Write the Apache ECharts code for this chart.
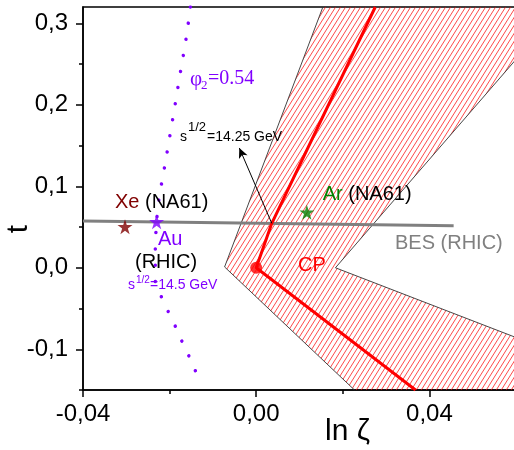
<!DOCTYPE html>
<html><head><meta charset="utf-8">
<script src="https://cdn.jsdelivr.net/npm/echarts@6/dist/echarts.min.js"></script>
<style>html,body{margin:0;padding:0;background:#fff}#c{width:514px;height:450px}</style>
</head><body><div id="c"></div>
<script>
// ---- data ----
const xMajorTicks = [-0.04, 0, 0.04];
const xMinorTicks = [-0.02, 0.02];
const yMajorTicks = [-0.1, 0, 0.1, 0.2, 0.3];
const yMinorTicks = [-0.15, -0.05, 0.05, 0.15, 0.25];

// phi_2 = 0.54 curve
const phiX = [-0.0152, -0.0162, -0.0175, -0.0187, -0.0199, -0.0212, -0.0225, -0.0230, -0.0233, -0.0233, -0.0219, -0.0203, -0.0187, -0.0172, -0.0156, -0.0141, -0.0129];
const phiY = [0.320, 0.281, 0.240, 0.201, 0.163, 0.1225, 0.083, 0.0565, 0.022, -0.015, -0.0356, -0.054, -0.0716, -0.0897, -0.1076, -0.1257, -0.144];

// BES (RHIC) line
const besX = [-0.04, 0.0456];
const besY = [0.0574, 0.0516];

// critical line through CP
const cpLineX = [0.0275, 0.0036, 0.0, 0.0368];
const cpLineY = [0.320, 0.0545, 0.0, -0.150];
const cpX = [0.0];
const cpY = [0.0];

// hatched uncertainty band
const bandX = [0.0154, -0.0073, 0.0227, 0.06, 0.06, 0.0183, 0.06, 0.06];
const bandY = [0.320, 0.001, -0.150, -0.150, -0.0856, 0.0, 0.2557, 0.320];
const bandLeftX = [0.0154, -0.0073, 0.0227];
const bandLeftY = [0.320, 0.001, -0.150];
const bandRightX = [0.06, 0.0183, 0.06];
const bandRightY = [0.2557, 0.0, -0.0856];

// experimental points (stars)
const starNames = ['Xe', 'Au', 'Ar'];
const starX = [-0.0303, -0.0230, 0.0117];
const starY = [0.0504, 0.0565, 0.0680];

// arrow to s^1/2 = 14.25 GeV
const arrowX = [0.0036, -0.0039];
const arrowY = [0.0545, 0.147];

// ---- chart ----
const SANS = "'Liberation Sans', Arial, sans-serif";
const SERIF = "'Liberation Serif', 'Times New Roman', serif";
const starColors = {Xe: '#800000', Au: '#8000ff', Ar: '#008000'};
const starPath = 'path://M50 0 L61.17 34.63 L97.55 34.55 L68.07 55.87 L79.39 90.45 L50 69 L20.61 90.45 L31.93 55.87 L2.45 34.55 L38.83 34.63 Z';

const pc = document.createElement('canvas');
pc.width = 5; pc.height = 8;
const g = pc.getContext('2d');
g.strokeStyle = 'rgba(255,0,0,0.8)'; g.lineWidth = 0.9;
g.beginPath();
[-5, 0, 5].forEach(o => { g.moveTo(o, 8); g.lineTo(o + 5, 0); });
g.stroke();
const hatch = {image: pc, repeat: 'repeat'};

const pairs = (xs, ys) => xs.map((x, i) => [x, ys[i]]);

const chart = echarts.init(document.getElementById('c'), null, {renderer: 'canvas'});
const option = {
  backgroundColor: '#fff',
  animation: false,
  grid: {left: 83, right: -2, top: 7, bottom: 60, show: true, borderColor: '#000', borderWidth: 1.5, outerBoundsMode: 'none', containLabel: false},
  xAxis: [
    {type: 'value', min: -0.04, max: 0.06, position: 'bottom',
     splitLine: {show: false},
     axisLine: {show: true, onZero: false, lineStyle: {color: '#000', width: 1.5}},
     axisTick: {show: true, customValues: xMajorTicks, length: 7, inside: false, lineStyle: {color: '#000', width: 1.5}},
     axisLabel: {show: true, customValues: xMajorTicks, margin: 12, color: '#000', fontSize: 24, fontFamily: SANS,
       formatter: v => v.toFixed(2).replace('.', ',')}},
    {type: 'value', min: -0.04, max: 0.06, position: 'bottom',
     splitLine: {show: false},
     axisLine: {show: false, onZero: false},
     axisTick: {show: true, customValues: xMinorTicks, length: 4, inside: false, lineStyle: {color: '#000', width: 1.5}},
     axisLabel: {show: false}}
  ],
  yAxis: [
    {type: 'value', min: -0.15, max: 0.32, position: 'left',
     splitLine: {show: false},
     axisLine: {show: true, onZero: false, lineStyle: {color: '#000', width: 1.5}},
     axisTick: {show: true, customValues: yMajorTicks, length: 7, inside: false, lineStyle: {color: '#000', width: 1.5}},
     axisLabel: {show: true, customValues: yMajorTicks, margin: 15, color: '#000', fontSize: 24, fontFamily: SANS,
       formatter: v => v.toFixed(1).replace('.', ',')}},
    {type: 'value', min: -0.15, max: 0.32, position: 'left',
     splitLine: {show: false},
     axisLine: {show: false, onZero: false},
     axisTick: {show: true, customValues: yMinorTicks, length: 4, inside: false, lineStyle: {color: '#000', width: 1.5}},
     axisLabel: {show: false}}
  ],
  series: [
    {type: 'custom', name: 'band', coordinateSystem: 'cartesian2d', silent: true, z: 1,
     data: [[0, 0]],
     renderItem: (params, api) => ({
       type: 'polygon',
       shape: {points: bandX.map((x, i) => api.coord([x, bandY[i]]))},
       style: {fill: hatch, stroke: null}
     })},
    {type: 'line', name: 'bandLeft', data: pairs(bandLeftX, bandLeftY), symbol: 'none', z: 2, silent: true,
     lineStyle: {color: '#333', width: 0.9}},
    {type: 'line', name: 'bandRight', data: pairs(bandRightX, bandRightY), symbol: 'none', z: 2, silent: true,
     lineStyle: {color: '#333', width: 0.9}},
    {type: 'line', name: 'BES (RHIC)', data: pairs(besX, besY), symbol: 'none', z: 3, silent: true,
     lineStyle: {color: '#808080', width: 3}},
    {type: 'line', name: 'critical line', data: pairs(cpLineX, cpLineY), symbol: 'none', z: 4, silent: true,
     lineStyle: {color: '#ff0000', width: 3}},
    {type: 'line', name: 'phi2', data: pairs(phiX, phiY), symbol: 'none', smooth: 0.3, z: 5, silent: true,
     lineStyle: {color: '#8000ff', width: 3.5, type: [0.01, 16.3], cap: 'round'}},
    {type: 'line', name: 'arrow', data: [], z: 6, silent: true,
     markLine: {silent: true, symbol: ['none', 'arrow'], symbolSize: [7, 10], label: {show: false},
       lineStyle: {color: '#000', width: 1, type: 'solid'},
       data: [[{coord: [arrowX[0], arrowY[0]]}, {coord: [arrowX[1], arrowY[1]]}]]}},
    {type: 'scatter', name: 'stars', z: 7, silent: true, symbol: starPath, symbolSize: 15,
     data: starNames.map((n, i) => ({name: n, value: [starX[i], starY[i]], itemStyle: {color: starColors[n]}}))},
    {type: 'scatter', name: 'CP', z: 8, silent: true, symbol: 'circle', symbolSize: 12,
     itemStyle: {color: '#ff0000'}, data: pairs(cpX, cpY)}
  ],
  graphic: [
    {type: 'text', x: 190, y: 79, z: 100, style: {text: 'φ', font: '21px ' + SERIF, fill: '#8000ff', verticalAlign: 'middle'}},
    {type: 'text', x: 201, y: 86, z: 100, style: {text: '2', font: '13px ' + SERIF, fill: '#8000ff', verticalAlign: 'middle'}},
    {type: 'text', x: 208, y: 79, z: 100, style: {text: '=0.54', font: '20px ' + SERIF, fill: '#8000ff', verticalAlign: 'middle'}},

    {type: 'text', x: 180, y: 137, z: 100, style: {text: 's', font: '14px ' + SANS, fill: '#000', verticalAlign: 'middle'}},
    {type: 'text', x: 188, y: 127, z: 100, style: {text: '1/2', font: '13px ' + SANS, fill: '#000', verticalAlign: 'middle'}},
    {type: 'text', x: 207, y: 137, z: 100, style: {text: '=14.25 GeV', font: '14px ' + SANS, fill: '#000', verticalAlign: 'middle'}},

    {type: 'text', x: 115, y: 202, z: 100, style: {text: '{a|Xe} (NA61)', font: '20px ' + SANS, fill: '#000', verticalAlign: 'middle',
      rich: {a: {fill: '#800000', font: '20px ' + SANS}}}},
    {type: 'text', x: 158, y: 239, z: 100, style: {text: 'Au', font: '20px ' + SANS, fill: '#8000ff', verticalAlign: 'middle'}},
    {type: 'text', x: 135, y: 262, z: 100, style: {text: '(RHIC)', font: '20px ' + SANS, fill: '#000', verticalAlign: 'middle'}},
    {type: 'text', x: 128, y: 285, z: 100, style: {text: 's', font: '14px ' + SANS, fill: '#8000ff', verticalAlign: 'middle'}},
    {type: 'text', x: 136, y: 280, z: 100, style: {text: '1/2', font: '10px ' + SANS, fill: '#8000ff', verticalAlign: 'middle'}},
    {type: 'text', x: 150, y: 285, z: 100, style: {text: '=14.5 GeV', font: '14px ' + SANS, fill: '#8000ff', verticalAlign: 'middle'}},

    {type: 'text', x: 322.7, y: 194, z: 100, style: {text: '{g|Ar} (NA61)', font: '20px ' + SANS, fill: '#000', verticalAlign: 'middle',
      rich: {g: {fill: '#008000', font: '20px ' + SANS}}}},
    {type: 'text', x: 395, y: 243, z: 100, style: {text: 'BES (RHIC)', font: '20px ' + SANS, fill: '#808080', verticalAlign: 'middle'}},
    {type: 'text', x: 298, y: 265, z: 100, style: {text: 'CP', font: '20px ' + SANS, fill: '#ff0000', verticalAlign: 'middle'}},

    {type: 'text', x: 325, y: 432, z: 100, style: {text: 'ln ζ', font: '30px ' + SANS, fill: '#000', verticalAlign: 'middle'}},
    {type: 'text', x: 19, y: 229, z: 100, rotation: Math.PI / 2, style: {text: 't', font: '30px ' + SANS, fill: '#000', align: 'center', verticalAlign: 'middle'}}
  ]
};
chart.setOption(option);
</script>
</body></html>
